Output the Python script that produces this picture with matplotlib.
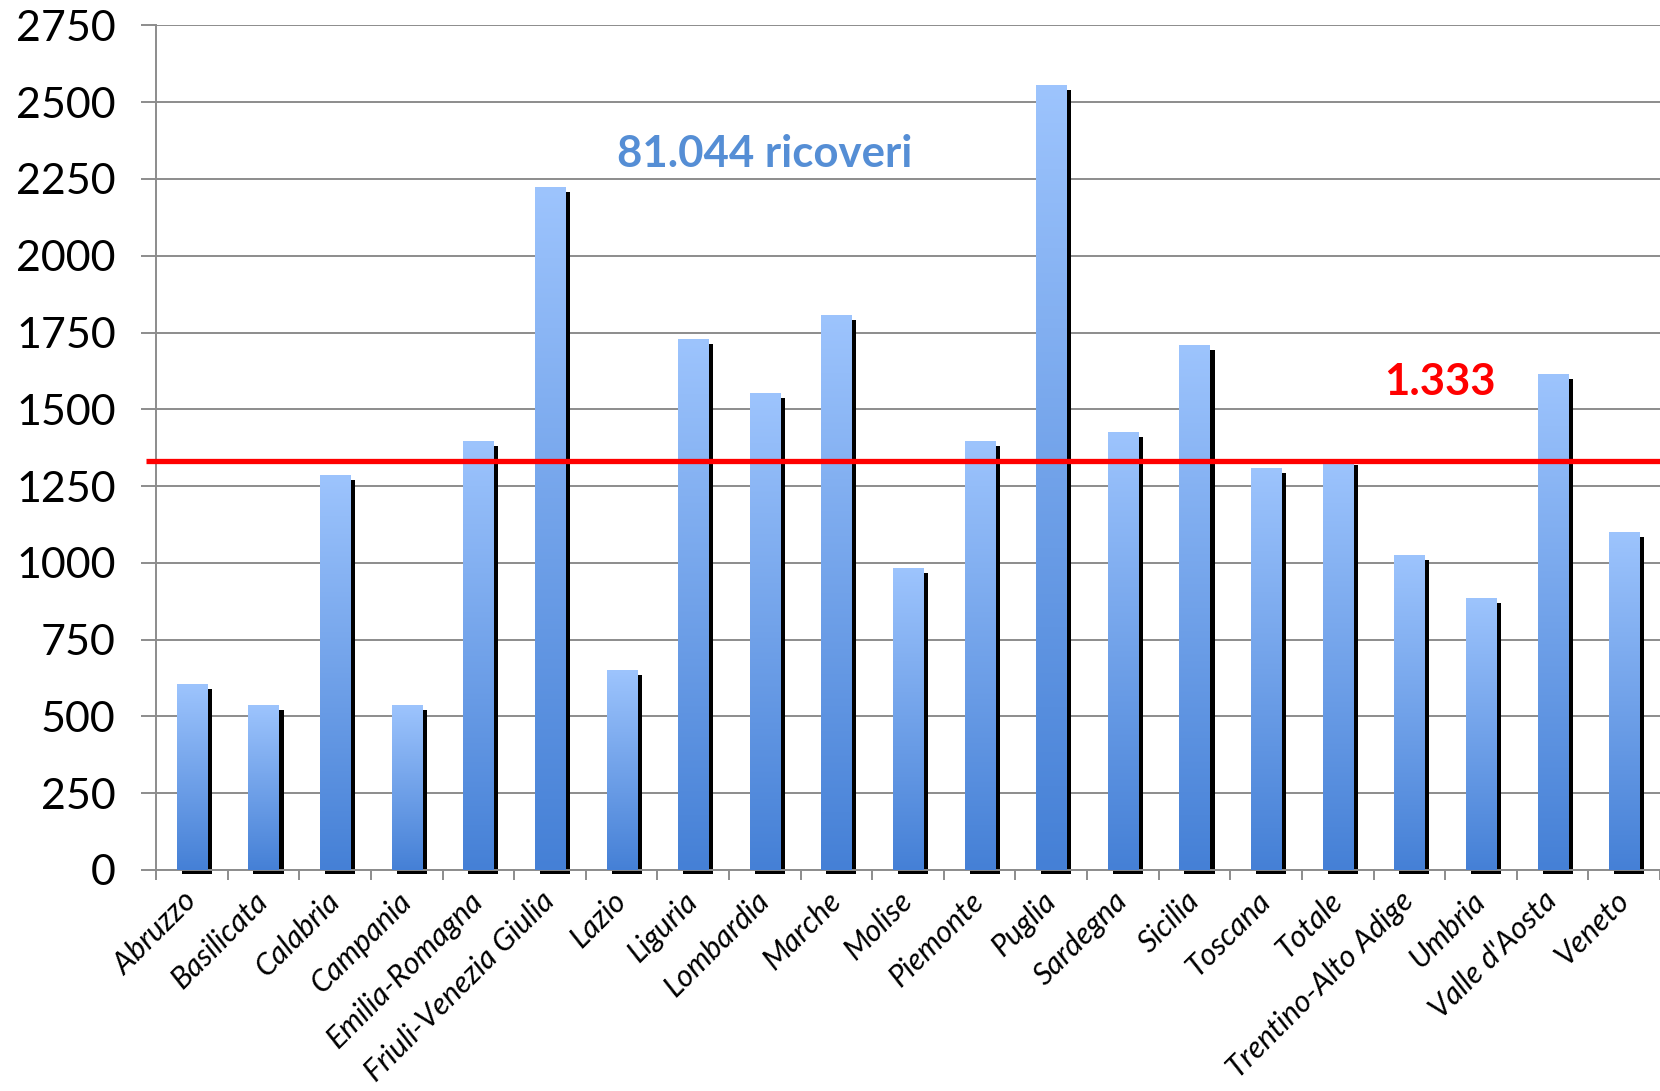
import numpy as np
import matplotlib
matplotlib.use("Agg")
import matplotlib.pyplot as plt
from matplotlib.colors import LinearSegmentedColormap
from matplotlib.transforms import ScaledTranslation

plt.rcParams['font.family'] = ['Lato', 'DejaVu Sans']

# ricoveri per regione
regioni = ['Abruzzo', 'Basilicata', 'Calabria', 'Campania', 'Emilia-Romagna',
           'Friuli-Venezia Giulia', 'Lazio', 'Liguria', 'Lombardia', 'Marche',
           'Molise', 'Piemonte', 'Puglia', 'Sardegna', 'Sicilia', 'Toscana',
           'Totale', 'Trentino-Alto Adige', 'Umbria', "Valle d'Aosta", 'Veneto']
valori = [605, 535, 1283, 535, 1396, 2221, 648, 1727, 1552, 1807, 983,
          1396, 2555, 1424, 1707, 1307, 1333, 1024, 883, 1614, 1100]
media = 1333
y_ticks = [0, 250, 500, 750, 1000, 1250, 1500, 1750, 2000, 2250, 2500, 2750]

grey = '#8c8c8c'
blu = LinearSegmentedColormap.from_list('blu', ['#4580d6', '#9dc4fd'])

fig = plt.figure(figsize=(16.6, 10.91), dpi=100)
ax = fig.add_axes([0.094, 0.2026, 0.906, 0.7741])

x = np.arange(len(regioni))
w = 0.42

# ombra nera dietro le barre
shift = ScaledTranslation(0.05, -0.045, fig.dpi_scale_trans)
ax.bar(x, valori, width=w, color='black', zorder=2,
       transform=ax.transData + shift, clip_on=False)

# barre con sfumatura verticale
grad = np.linspace(0, 1, 256).reshape(-1, 1)
for xi, v in zip(x, valori):
    ax.imshow(grad, extent=[xi - w / 2, xi + w / 2, 0, v], origin='lower',
              aspect='auto', cmap=blu, interpolation='bicubic', zorder=3)

ax.set_xlim(-0.5, len(regioni) - 0.5)
ax.set_ylim(0, 2750)

# linea della media
ax.plot([-0.64, len(regioni) - 0.5], [media, media], color='#ff0000',
        lw=3.8, zorder=5, clip_on=False, solid_capstyle='butt')

ax.text(8.0, 2330, '81.044 ricoveri', color='#558ed5', fontsize=31.5,
        fontweight='bold', ha='center', va='center', zorder=6)
ax.text(17.43, 1590, '1.333', color='#ff0000', fontsize=31.5,
        fontweight='bold', ha='center', va='center', zorder=6)

ax.set_yticks(y_ticks)
ax.set_yticklabels([str(t) for t in y_ticks], fontsize=31)
ax.yaxis.grid(True, color=grey, lw=1.4, zorder=0)
ax.set_axisbelow(True)

ax.set_xticks(x)
ax.set_xticklabels(regioni, rotation=45, ha='right', va='center',
                   rotation_mode='anchor', fontsize=22, style='italic')
ax.set_xticks(np.arange(len(regioni) + 1) - 0.5, minor=True)
ax.tick_params(axis='x', which='major', length=0, pad=19)
ax.tick_params(axis='x', which='minor', length=7, width=1.4, color=grey)
ax.tick_params(axis='y', length=11, width=1.4, color=grey, pad=18)

for s in ['top', 'right']:
    ax.spines[s].set_visible(False)
for s in ['left', 'bottom']:
    ax.spines[s].set_color(grey)
    ax.spines[s].set_linewidth(1.4)

fig.savefig('out.png', dpi=100, facecolor='white')
